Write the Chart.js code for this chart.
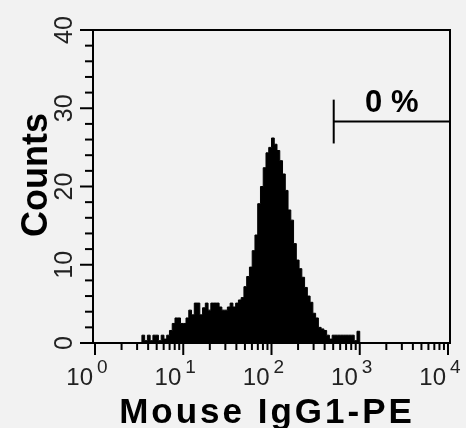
<!DOCTYPE html>
<html>
<head>
<meta charset="utf-8">
<script src="https://cdn.jsdelivr.net/npm/chart.js@4.4.1/dist/chart.umd.min.js"></script>
<style>
    body { margin: 0; background: #f2f2f2; }
    canvas { display: block; }
</style>
</head>
<body>
<canvas id="histograma" width="466" height="428"></canvas>
<script>
// Datos del histograma (32 canales por decada, el primer valor es el canal 17)
var primerCanal = 17;
var canalesPorDecada = 32;
var conteos = [
    0, 1, 0.3, 1, 0.3, 1, 1, 0.3, 1, 0.5, 1,
    1.6, 2.5, 3.2, 3.2, 2.5, 2.5, 3.2, 4.2, 3.6, 5.1,
    5.1, 3.6, 4.5, 5.1, 4.2, 5.1, 5.1, 5.1, 4.6, 4.2,
    4.2, 4.6, 5.1, 4.6, 5.1, 5.5, 5.8, 7.2, 8.5, 9.7,
    11.8, 13.8, 17.8, 20, 22.4, 24.3, 25, 26.2, 25.4, 24.6,
    23.3, 21.6, 19.5, 17, 15.7, 12.7, 10.6, 9.5, 8.4, 7.1,
    6, 5.2, 3.8, 3.2, 2, 1.8, 1.6, 1, 0.5, 1,
    1, 1, 1, 1, 1, 1, 1, 0.3, 1.5, 0
];

// Ejes
var decadas = [0, 1, 2, 3, 4];
var ticksY = [0, 10, 20, 30, 40];
var tituloX = 'Mouse IgG1-PE';
var tituloY = 'Counts';

// Marcador (region) en unidades de datos: log10 inicio/fin, nivel en conteos
var marcadorX = [2.705, 4.02];
var marcadorY = [25.5, 28.3, 31.1];
var marcadorTexto = '0 %';

// Construir los puntos del histograma
var puntos = [];
for (var i = 0; i < conteos.length; i++) {
    puntos.push({ x: (primerCanal + i) / canalesPorDecada, y: conteos[i] });
}
puntos.push({ x: (primerCanal + conteos.length) / canalesPorDecada, y: 0 });

function linea(ctx, x1, y1, x2, y2) {
    ctx.beginPath();
    ctx.moveTo(x1, y1);
    ctx.lineTo(x2, y2);
    ctx.stroke();
}

// Plugin para dibujar el marco, los ticks, etiquetas y el marcador
var dibujoEjes = {
    id: 'dibujoEjes',
    afterDraw: function(chart) {
        var ctx = chart.ctx;
        var ejeX = chart.scales.x;
        var ejeY = chart.scales.y;
        var area = chart.chartArea;
        ctx.save();
        ctx.strokeStyle = '#000';
        ctx.fillStyle = '#000';

        // marco
        ctx.lineWidth = 2;
        ctx.strokeRect(area.left, area.top, area.right - area.left, area.bottom - area.top);

        // ticks Y (cada 2 conteos)
        for (var v = 0; v <= 40; v += 2) {
            var py = ejeY.getPixelForValue(v);
            var largo = (v % 10 === 0) ? 13 : 8;
            linea(ctx, area.left - largo, py, area.left, py);
        }

        // ticks X logaritmicos
        for (var d = 0; d < decadas.length; d++) {
            var px = ejeX.getPixelForValue(decadas[d]);
            linea(ctx, px, area.bottom, px, area.bottom + 12);
            if (d < decadas.length - 1) {
                for (var m = 2; m <= 9; m++) {
                    var pm = ejeX.getPixelForValue(decadas[d] + Math.log10(m));
                    linea(ctx, pm, area.bottom, pm, area.bottom + 7);
                }
            }
        }

        // etiquetas Y (giradas)
        ctx.fillStyle = '#222';
        ctx.font = '25px "Liberation Sans Narrow", "Liberation Sans", sans-serif';
        ctx.textAlign = 'center';
        ctx.textBaseline = 'alphabetic';
        ticksY.forEach(function(t) {
            ctx.save();
            ctx.translate(72, ejeY.getPixelForValue(t));
            ctx.rotate(-Math.PI / 2);
            ctx.fillText(String(t), 0, 0);
            ctx.restore();
        });

        // etiquetas X: 10 con exponente
        decadas.forEach(function(dd) {
            var px = ejeX.getPixelForValue(dd);
            ctx.font = '24px "Liberation Sans Narrow", "Liberation Sans", sans-serif';
            ctx.textAlign = 'right';
            ctx.fillText('10', px - 2, 385);
            ctx.font = '19px "Liberation Sans Narrow", "Liberation Sans", sans-serif';
            ctx.textAlign = 'left';
            ctx.fillText(String(dd), px + 2, 373);
        });

        // titulos
        ctx.fillStyle = '#000';
        ctx.font = 'bold 35px "Liberation Sans", Arial, sans-serif';
        ctx.textAlign = 'center';
        ctx.letterSpacing = '3px';
        ctx.fillText(tituloX, 267, 423);
        ctx.letterSpacing = '0px';
        ctx.save();
        ctx.font = 'bold 36px "Liberation Sans", Arial, sans-serif';
        ctx.translate(47, 175);
        ctx.rotate(-Math.PI / 2);
        ctx.fillText(tituloY, 0, 0);
        ctx.restore();

        // marcador
        var gx1 = ejeX.getPixelForValue(marcadorX[0]);
        var gx2 = ejeX.getPixelForValue(marcadorX[1]);
        ctx.lineWidth = 2;
        linea(ctx, gx1, ejeY.getPixelForValue(marcadorY[0]), gx1, ejeY.getPixelForValue(marcadorY[2]));
        linea(ctx, gx1, ejeY.getPixelForValue(marcadorY[1]), gx2, ejeY.getPixelForValue(marcadorY[1]));
        ctx.font = 'bold 31px "Liberation Sans", Arial, sans-serif';
        ctx.textAlign = 'center';
        ctx.fillText(marcadorTexto, (gx1 + gx2) / 2, 112);

        ctx.restore();
    }
};

const config = {
    type: 'line',
    data: {
        datasets: [{
            data: puntos,
            stepped: 'after',
            fill: 'origin',
            backgroundColor: '#000',
            borderColor: '#000',
            borderWidth: 1,
            pointRadius: 0
        }]
    },
    options: {
        responsive: false,
        animation: false,
        events: [],
        layout: { padding: { left: 93, top: 30, right: 16, bottom: 85 } },
        scales: {
            x: { type: 'linear', min: -0.0227, max: 4.0227, display: false },
            y: { type: 'linear', min: 0, max: 40, display: false }
        },
        plugins: {
            legend: { display: false },
            tooltip: { enabled: false }
        }
    },
    plugins: [dibujoEjes]
};

const ctx = document.getElementById('histograma').getContext('2d');
new Chart(ctx, config);
</script>
</body>
</html>
